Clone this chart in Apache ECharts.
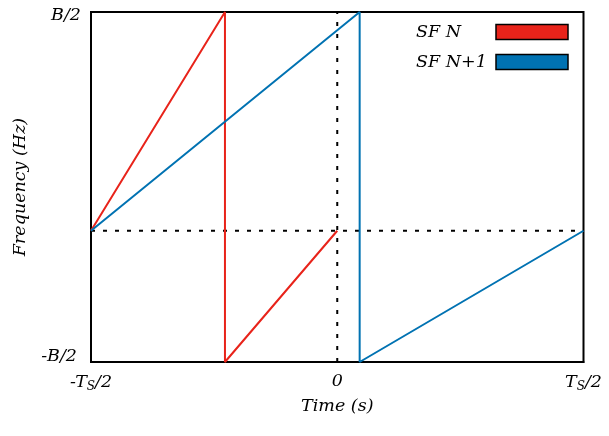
<!DOCTYPE html>
<html>
<head>
<meta charset="utf-8">
<script src="https://cdn.jsdelivr.net/npm/echarts@6/dist/echarts.min.js"></script>
<style>html,body{margin:0;padding:0;background:#fff}#c{width:609px;height:436px}</style>
</head>
<body>
<div id="c"></div>
<script>
// Data (time in units of Ts/2, frequency in units of B/2)
const seriesNames = ['SF N', 'SF N+1'];
const sfN = [[-1, -0.25], [-0.456, 1], [-0.456, -1], [0, -0.25]];
const sfN1 = [[-1, -0.25], [0.091, 1], [0.091, -1], [1, -0.25]];
const hRef = [[-1, -0.25], [1, -0.25]];
const vRef = [[0, -1], [0, 1]];
const xTickLabels = { '-1': '-T{s|S}/2', '0': '0', '1': 'T{s|S}/2' };
const yTickLabels = { '-1': '{bot|-B/2}', '1': '{top|B/2}' };

const font = 'DejaVu Serif';
const fs = 17.5;
const chart = echarts.init(document.getElementById('c'), null, { renderer: 'canvas' });
const dotted = { color: '#000', width: 2, type: [4, 8] };
const base = { fontFamily: font, fontStyle: 'italic', fontSize: fs, color: '#000' };
chart.setOption({
  animation: false,
  grid: { left: 91, right: 25.5, top: 12, bottom: 74, show: true, borderColor: '#000', borderWidth: 2 },
  legend: {
    data: seriesNames, orient: 'vertical', left: 416, top: 23, padding: 0,
    align: 'right', icon: 'rect', itemWidth: 72, itemHeight: 15, itemGap: 12,
    itemStyle: { borderColor: '#000', borderWidth: 1.5 },
    formatter: '{a|{name}}',
    textStyle: Object.assign({}, base, { lineHeight: 16, rich: { a: Object.assign({}, base, { width: 75, align: 'left', lineHeight: 16 }) } })
  },
  xAxis: {
    type: 'value', min: -1, max: 1, interval: 1,
    name: 'Time (s)', nameLocation: 'middle', nameGap: 33,
    nameTextStyle: base,
    axisLine: { show: true, onZero: false, lineStyle: { color: '#000', width: 2 } },
    axisTick: { show: false }, splitLine: { show: false },
    axisLabel: Object.assign({}, base, {
      margin: 10,
      formatter: v => xTickLabels[String(v)],
      rich: { s: Object.assign({}, base, { fontSize: 12, verticalAlign: 'bottom', padding: [9, 0, 0, 0] }) }
    })
  },
  yAxis: {
    type: 'value', min: -1, max: 1, interval: 2,
    name: 'Frequency (Hz)', nameLocation: 'middle', nameGap: 62, nameRotate: 90,
    nameTextStyle: base,
    axisLine: { show: true, onZero: false, lineStyle: { color: '#000', width: 2 } },
    axisTick: { show: false }, splitLine: { show: false },
    axisLabel: Object.assign({}, base, {
      margin: 10,
      formatter: v => yTickLabels[String(v)],
      rich: {
        top: Object.assign({}, base, { padding: [6, 0, 0, 0] }),
        bot: Object.assign({}, base, { padding: [0, 4, 12, 0] })
      }
    })
  },
  series: [
    { type: 'line', name: 'hRef', data: hRef, symbol: 'none', lineStyle: dotted, silent: true },
    { type: 'line', name: 'vRef', data: vRef, symbol: 'none', lineStyle: dotted, silent: true },
    { type: 'line', name: seriesNames[0], data: sfN, symbol: 'none', color: '#e8231a', lineStyle: { color: '#e8231a', width: 2 } },
    { type: 'line', name: seriesNames[1], data: sfN1, symbol: 'none', color: '#0072b2', lineStyle: { color: '#0072b2', width: 2 } }
  ]
});
</script>
</body>
</html>
